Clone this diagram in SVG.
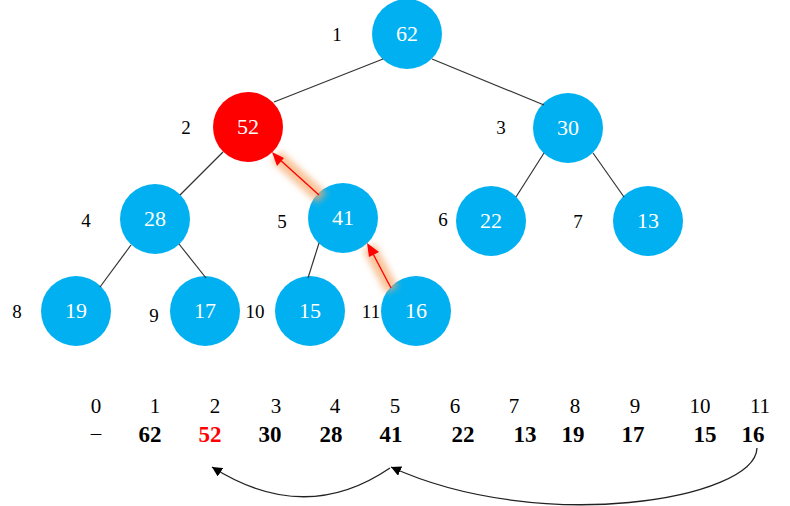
<svg xmlns="http://www.w3.org/2000/svg" width="790" height="506" viewBox="0 0 790 506">
<style>
.node{fill:#00b0f0}
.hot{fill:#ff0000}
.nt{font-family:"Liberation Serif",serif;font-size:22px;fill:#fff;text-anchor:middle}
.lb{font-family:"Liberation Serif",serif;font-size:19px;fill:#000;text-anchor:middle}
.idx{font-family:"Liberation Serif",serif;font-size:21px;fill:#000;text-anchor:middle}
.val{font-family:"Liberation Serif",serif;font-size:23px;font-weight:bold;fill:#000;text-anchor:middle}
.edge{stroke:#333;stroke-width:1.2;fill:none}
.glow{stroke:#f6a96e;stroke-width:14;stroke-opacity:0.7;fill:none;filter:url(#blur)}
.ra{stroke:#ff0000;stroke-width:1.3;fill:none}
.curve{stroke:#222;stroke-width:1.3;fill:none;marker-end:url(#ah)}
</style>
<defs>
<filter id="blur" x="-50%" y="-50%" width="200%" height="200%"><feGaussianBlur stdDeviation="3"/></filter>
<marker id="ah" viewBox="0 0 10 10" refX="10" refY="5" markerWidth="10" markerHeight="10" markerUnits="userSpaceOnUse" orient="auto"><path d="M0,0 L10,5 L0,10 z" fill="#000"/></marker>
</defs>

<g id="label-1"><text class="lb" x="337" y="41">1</text></g>
<g id="node-1"><circle class="node" cx="407" cy="34" r="35"/><text class="nt" x="407" y="41">62</text></g>
<g id="label-2"><text class="lb" x="186" y="134">2</text></g>
<g id="node-2"><circle class="hot" cx="248" cy="127" r="35"/><text class="nt" x="248" y="134">52</text></g>
<g id="label-3"><text class="lb" x="501" y="134">3</text></g>
<g id="node-3"><circle class="node" cx="568" cy="128" r="35"/><text class="nt" x="568" y="135">30</text></g>
<g id="label-4"><text class="lb" x="86" y="227">4</text></g>
<g id="node-4"><circle class="node" cx="155" cy="219" r="35"/><text class="nt" x="155" y="226">28</text></g>
<g id="label-5"><text class="lb" x="282" y="228">5</text></g>
<g id="node-5"><circle class="node" cx="343" cy="218" r="35"/><text class="nt" x="343" y="225">41</text></g>
<g id="label-6"><text class="lb" x="443" y="226">6</text></g>
<g id="node-6"><circle class="node" cx="491" cy="221" r="35"/><text class="nt" x="491" y="228">22</text></g>
<g id="label-7"><text class="lb" x="578" y="228">7</text></g>
<g id="node-7"><circle class="node" cx="648" cy="221" r="35"/><text class="nt" x="648" y="228">13</text></g>
<g id="label-8"><text class="lb" x="17" y="318">8</text></g>
<g id="node-8"><circle class="node" cx="76" cy="311" r="35"/><text class="nt" x="76" y="318">19</text></g>
<g id="label-9"><text class="lb" x="154" y="322">9</text></g>
<g id="node-9"><circle class="node" cx="205" cy="311" r="35"/><text class="nt" x="205" y="318">17</text></g>
<g id="label-10"><text class="lb" x="255" y="318">10</text></g>
<g id="node-10"><circle class="node" cx="310" cy="311" r="35"/><text class="nt" x="310" y="318">15</text></g>
<g id="label-11"><text class="lb" x="371" y="318">11</text></g>
<g id="node-11"><circle class="node" cx="416" cy="311" r="35"/><text class="nt" x="416" y="318">16</text></g>

<g id="connectors">
<line class="edge" x1="383" y1="59" x2="274" y2="102"/>
<line class="edge" x1="432" y1="59" x2="544" y2="105"/>
<line class="edge" x1="223" y1="152" x2="180" y2="195"/>
<line class="edge" x1="544" y1="153" x2="516" y2="197"/>
<line class="edge" x1="593" y1="153" x2="624" y2="197"/>
<line class="edge" x1="131" y1="245" x2="100" y2="287"/>
<line class="edge" x1="179" y1="244" x2="206" y2="278"/>
<line class="edge" x1="319" y1="243" x2="308" y2="278"/>
<line class="glow" x1="322" y1="198" x2="276" y2="156"/>
<line class="glow" x1="392" y1="290" x2="369" y2="247"/>
<line class="ra" x1="319" y1="195" x2="278" y2="158"/>
<polygon points="272,152 284,158 277,166" fill="#ff0000"/>
<line class="ra" x1="391" y1="288" x2="371" y2="250"/>
<polygon points="367,243 379,252 369,257" fill="#ff0000"/>
<path class="curve" d="M390,468 Q305,526 212,467"/>
<path class="curve" d="M757,448 C755,500 540,535 391,467"/>
</g>

<g id="array-index">
<text class="idx" x="96" y="413">0</text>
<text class="idx" x="155" y="413">1</text>
<text class="idx" x="215" y="413">2</text>
<text class="idx" x="276" y="413">3</text>
<text class="idx" x="335" y="413">4</text>
<text class="idx" x="395" y="413">5</text>
<text class="idx" x="455" y="413">6</text>
<text class="idx" x="514" y="413">7</text>
<text class="idx" x="575" y="413">8</text>
<text class="idx" x="635" y="413">9</text>
<text class="idx" x="700" y="413">10</text>
<text class="idx" x="760" y="413">11</text>
</g>
<g id="array-values">
<text class="idx" x="96" y="440">–</text>
<text class="val" x="150" y="442">62</text>
<text class="val" x="210" y="442" style="fill:#ff0000">52</text>
<text class="val" x="270" y="442">30</text>
<text class="val" x="331" y="442">28</text>
<text class="val" x="391" y="442">41</text>
<text class="val" x="463" y="442">22</text>
<text class="val" x="525" y="442">13</text>
<text class="val" x="573" y="442">19</text>
<text class="val" x="633" y="442">17</text>
<text class="val" x="705" y="442">15</text>
<text class="val" x="753" y="442">16</text>
</g>
</svg>
